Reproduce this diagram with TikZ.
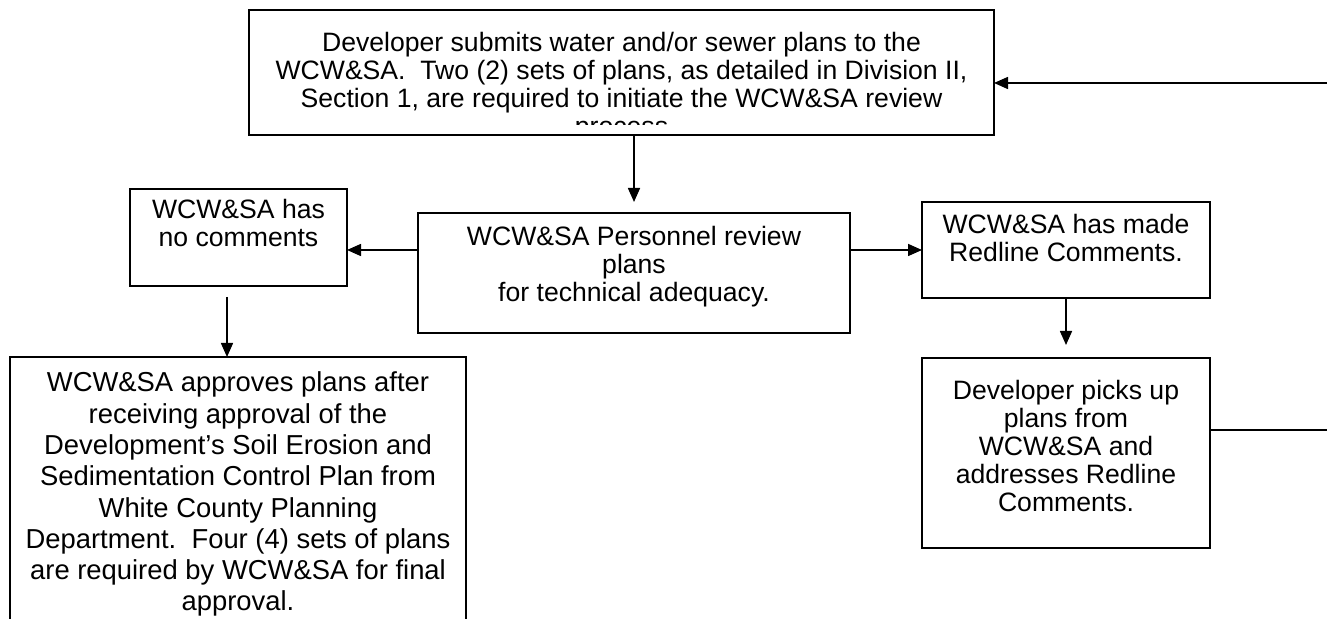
\documentclass[tikz,border=0pt]{standalone}
\usepackage{fontspec}
\setmainfont{Liberation Sans}
\usetikzlibrary{arrows.meta}
\usetikzlibrary{positioning}

\begin{document}
\begin{tikzpicture}[x=0.5pt, y=-0.5pt, node distance=30pt,
  txt/.style={align=center, inner sep=0pt, anchor=north, font=\fontsize{13.3pt}{14pt}\selectfont},
  box/.style={draw, rectangle, line width=1pt, outer sep=0pt, inner sep=0pt},
  >={Triangle[length=7pt,width=6pt]}]
\useasboundingbox (0,0) rectangle (1327,619);
% boxes
\node[box, minimum width=372.5pt, minimum height=62.5pt] (submit) at (621.5,72.5) {};
\node[box, minimum width=216pt, minimum height=60pt] (persn) at (634,273) {};
\node[box, minimum width=108.5pt, minimum height=48.5pt] (nocomm) at (238.5,237.5) {};
\node[box, minimum width=228pt, minimum height=133pt] (apprv) at (238,490) {};
\node[box, minimum width=144pt, minimum height=48pt] (redl) at (1066,250) {};
\node[box, minimum width=144pt, minimum height=95pt] (pick) [below=of redl] {};
% texts
\begin{scope}
\clip (249,10) rectangle (994,125);
\node[txt] (submittxt) at (621.5,31.5) {Developer submits water and/or sewer plans to the\\ WCW\&SA.\ \ Two (2) sets of plans, as detailed in Division II,\\ Section 1, are required to initiate the WCW\&SA review\\ process};
\end{scope}
\node[txt] (persntxt) at (634,226) {WCW\&SA Personnel review\\ plans\\ for technical adequacy.};
\node[txt] (nocommtxt) at (238.5,199) {WCW\&SA has\\ no comments};
\node[txt, font=\fontsize{13.7pt}{15.65pt}\selectfont] (apprvtxt) at (238,371.6) {WCW\&SA approves plans after\\ receiving approval of the\\ Development’s Soil Erosion and\\ Sedimentation Control Plan from\\ White County Planning\\ Department.\ \ Four (4) sets of plans\\ are required by WCW\&SA for final\\ approval.};
\node[txt] (redltxt) at (1066,214) {WCW\&SA has made\\ Redline Comments.};
\node[txt] (picktxt) at (1066,380) {Developer picks up\\ plans from\\ WCW\&SA and\\ addresses Redline\\ Comments.};
% arrows
\coordinate (loop) at (1350,250);
\draw[->, line width=0.8pt, shorten >=5.5pt] (submit.south -| persn.north) -- (persn.north);
\draw[->, line width=0.8pt] (persn.west |- redl.west) -- (nocomm.east |- redl.west);
\draw[->, line width=0.8pt] (persn.east |- redl.west) -- (redl.west);
\draw[->, line width=0.8pt, shorten <=5.5pt] ([xshift=-5.75pt]nocomm.south) -- ([xshift=-5.75pt]nocomm.south |- apprv.north);
\draw[->, line width=0.8pt, shorten >=6.5pt] (redl.south) -- (pick.north);
\draw[->, line width=0.8pt] ([yshift=11.5pt]pick.east) -| (loop) |- ([yshift=-5.25pt]submit.east);
\end{tikzpicture}
\end{document}
